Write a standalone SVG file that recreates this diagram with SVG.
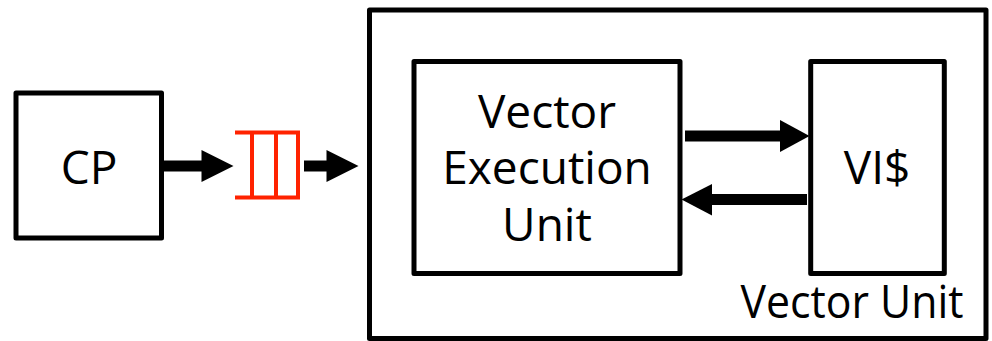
<svg xmlns="http://www.w3.org/2000/svg" width="992" height="341" viewBox="0 0 992 341">
  <style>
    .box { fill: #ffffff; stroke: #000000; stroke-width: 5; stroke-linejoin: round; }
    .label { font-family: "Open Sans", "Noto Sans", "Liberation Sans", sans-serif; font-size: 46px; fill: #000000; text-anchor: middle; }
    .shaft { stroke: #000000; stroke-width: 11; fill: none; }
    .head { fill: #000000; }
    .queue { stroke: #ff2200; stroke-width: 4; fill: none; }
  </style>

  <rect width="992" height="341" fill="#ffffff"/>

  <!-- Vector unit container -->
  <g id="vector-unit">
    <rect class="box" x="369.5" y="10" width="616.5" height="328.5" stroke-width="5.5"/>
    <text class="label" x="852" y="318" textLength="223" lengthAdjust="spacingAndGlyphs">Vector Unit</text>
  </g>

  <!-- Control processor -->
  <g id="cp">
    <rect class="box" x="16" y="93" width="145.5" height="145" stroke-width="4.5"/>
    <text class="label" x="89" y="184">CP</text>
  </g>

  <!-- Command queue -->
  <g id="queue">
    <path class="queue" d="M235 132.5 H298 V197.5 H235 M252 132.5 V197.5 M276 132.5 V197.5"/>
  </g>

  <!-- Vector execution unit -->
  <g id="veu">
    <rect class="box" x="414" y="61.5" width="266" height="212"/>
    <text class="label" x="547" y="128">Vector</text>
    <text class="label" x="547" y="184">Execution</text>
    <text class="label" x="547" y="241">Unit</text>
  </g>

  <!-- Vector instruction cache -->
  <g id="vicache">
    <rect class="box" x="810.7" y="61.5" width="133.6" height="212"/>
    <text class="label" x="877" y="184">VI$</text>
  </g>

  <!-- Connectors -->
  <g id="connectors">
    <line class="shaft" x1="164" y1="166" x2="203" y2="166"/>
    <polygon class="head" points="201.5,150 233.5,166 201.5,182"/>

    <line class="shaft" x1="304" y1="166" x2="328" y2="166"/>
    <polygon class="head" points="326.5,150 358.5,166 326.5,182"/>

    <line class="shaft" x1="685" y1="136" x2="782" y2="136"/>
    <polygon class="head" points="780,120 809.5,136 780,152"/>

    <line class="shaft" x1="807" y1="199.5" x2="710" y2="199.5"/>
    <polygon class="head" points="712,184 681.5,199.5 712,215.5"/>
  </g>
</svg>
